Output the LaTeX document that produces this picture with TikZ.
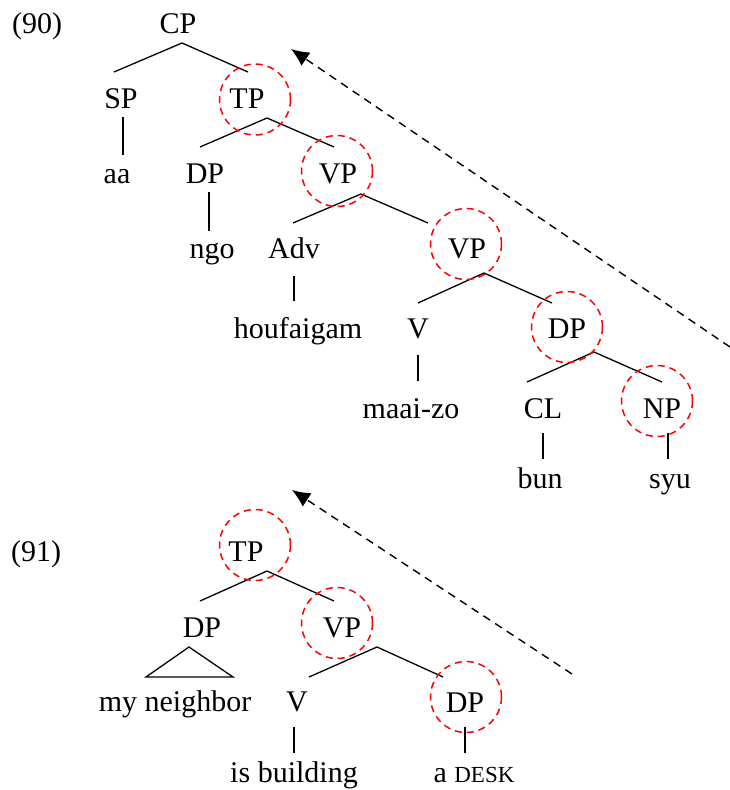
\documentclass[tikz,border=0pt]{standalone}
\usepackage{fontspec}
\setmainfont{Liberation Serif}
\usetikzlibrary{arrows.meta}
\begin{document}
\begin{tikzpicture}[x=1pt,y=-1pt,
  lbl/.style={font=\fontsize{30}{36}\selectfont, inner sep=0pt, anchor=base},
  edge/.style={line width=1.3pt},
  focus/.style={draw=red, line width=1.5pt, dash pattern=on 7pt off 5pt},
  move/.style={line width=1.4pt, dash pattern=on 8pt off 6pt, -{Latex[length=18pt,width=16pt]}}]
\useasboundingbox (0,0) rectangle (730,790);
% ---------- (90) ----------
\node[lbl, anchor=base west] (ex90) at (12,33) {(90)};
\node[lbl] (CP) at (178,33) {CP};
\node[lbl] (SP) at (121,108) {SP};
\node[lbl] (TPa) at (247,108) {TP};
\node[lbl] (aa) at (117,183) {aa};
\node[lbl] (DPa) at (205,183) {DP};
\node[lbl] (VPa) at (338,183) {VP};
\node[lbl] (ngo) at (212,258) {ngo};
\node[lbl] (Adv) at (294,258) {Adv};
\node[lbl] (VPb) at (467,258) {VP};
\node[lbl] (houf) at (298,338) {houfaigam};
\node[lbl] (Va) at (418,338) {V};
\node[lbl] (DPb) at (567,338) {DP};
\node[lbl] (maai) at (411,418) {maai-zo};
\node[lbl] (CL) at (543,418) {CL};
\node[lbl] (NP) at (662,418) {NP};
\node[lbl] (bun) at (540,488) {bun};
\node[lbl] (syu) at (670,488) {syu};
% attachment points
\coordinate (CPb) at (182,43);  \coordinate (SPt) at (114,72);  \coordinate (TPat) at (248,72);
\coordinate (SPb) at (123,117); \coordinate (aat) at (123,155);
\coordinate (TPab) at (267,118); \coordinate (DPat) at (200,147); \coordinate (VPat) at (334,147);
\coordinate (DPab) at (209,192); \coordinate (ngot) at (209,231);
\coordinate (VPab) at (361,194); \coordinate (Advt) at (293,223); \coordinate (VPbt) at (428,223);
\coordinate (Advb) at (294,276); \coordinate (houft) at (294,301);
\coordinate (VPbb) at (484,273); \coordinate (Vat) at (418,303); \coordinate (DPbt) at (552,303);
\coordinate (Vab) at (418,355); \coordinate (maait) at (418,381);
\coordinate (DPbb) at (594,352); \coordinate (CLt) at (527,382); \coordinate (NPt) at (662,382);
\coordinate (CLb) at (543,433); \coordinate (bunt) at (543,459);
\coordinate (NPb) at (668,433); \coordinate (syut) at (668,459);
\draw[edge] (SPt) -- (CPb) -- (TPat);
\draw[edge] (SPb) -- (aat);
\draw[edge] (DPat) -- (TPab) -- (VPat);
\draw[edge] (DPab) -- (ngot);
\draw[edge] (Advt) -- (VPab) -- (VPbt);
\draw[edge] (Advb) -- (houft);
\draw[edge] (Vat) -- (VPbb) -- (DPbt);
\draw[edge] (Vab) -- (maait);
\draw[edge] (CLt) -- (DPbb) -- (NPt);
\draw[edge] (CLb) -- (bunt);
\draw[edge] (NPb) -- (syut);
% circles
\draw[focus] (255,99.5) circle[radius=35.5];
\draw[focus] (337,171) circle[radius=35.5];
\draw[focus] (466,244) circle[radius=35.5];
\draw[focus] (567,327) circle[radius=35.5];
\draw[focus] (657,401) circle[radius=35.5];
% movement arrow
\coordinate (m1s) at (730,347);
\coordinate (m1e) at (291,49);
\draw[move] (m1s) -- (m1e);
% ---------- (91) ----------
\node[lbl, anchor=base west] (ex91) at (11,561) {(91)};
\node[lbl] (TPc) at (246,561) {TP};
\node[lbl] (DPc) at (202,637) {DP};
\node[lbl] (VPc) at (342,637) {VP};
\node[lbl] (neigh) at (175,711) {my neighbor};
\node[lbl] (Vc) at (297,711) {V};
\node[lbl] (DPd) at (465,712) {DP};
\node[lbl] (isb) at (294,782) {is building};
\node[lbl] (desk) at (474,782) {a {\fontsize{23}{27}\selectfont DESK}};
\coordinate (TPcb) at (267,571); \coordinate (DPct) at (200,601); \coordinate (VPct) at (334,601);
\coordinate (triA) at (189,647); \coordinate (triL) at (146,677); \coordinate (triR) at (233,677);
\coordinate (VPcb) at (377,647); \coordinate (Vct) at (309,677); \coordinate (DPdt) at (443,677);
\coordinate (Vcb) at (294,727); \coordinate (isbt) at (294,753);
\coordinate (DPdb) at (465,727); \coordinate (deskt) at (465,753);
\draw[edge] (DPct) -- (TPcb) -- (VPct);
\draw[edge, line join=miter] (triA) -- (triL) -- (triR) -- cycle;
\draw[edge] (Vct) -- (VPcb) -- (DPdt);
\draw[edge] (Vcb) -- (isbt);
\draw[edge] (DPdb) -- (deskt);
\draw[focus] (255,545) circle[radius=35.5];
\draw[focus] (337,623) circle[radius=35.5];
\draw[focus] (466,697) circle[radius=35.5];
\coordinate (m2s) at (572,674);
\coordinate (m2e) at (292,490);
\draw[move] (m2s) -- (m2e);
\end{tikzpicture}
\end{document}
